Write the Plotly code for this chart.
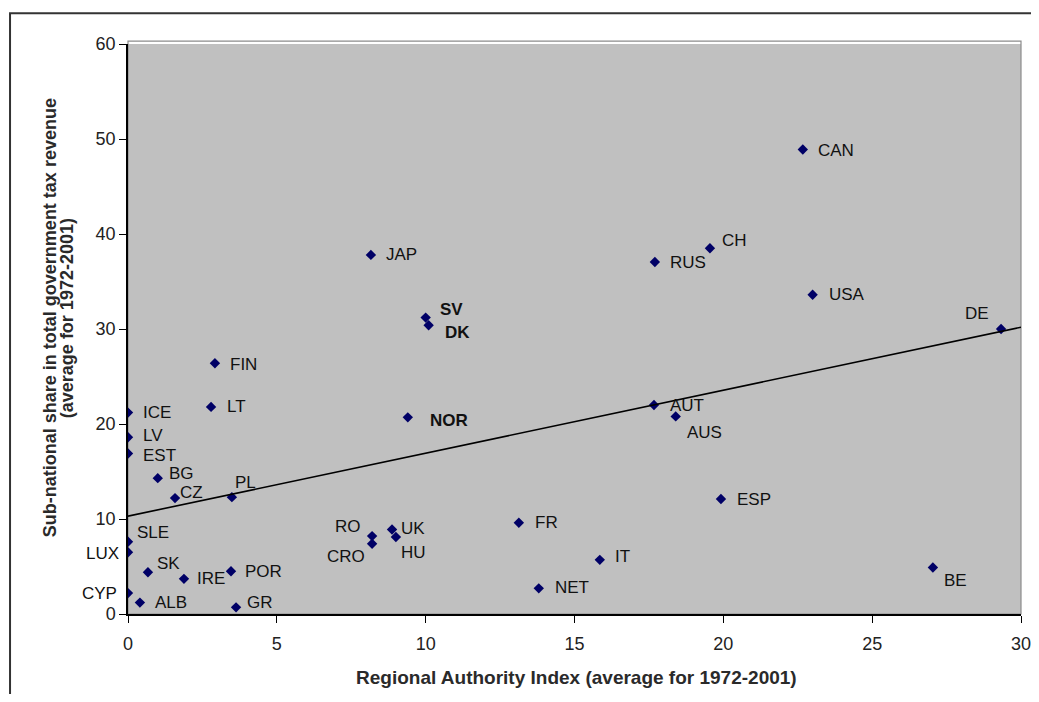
import plotly.graph_objects as go

# ---- data ----
countries = ["CAN", "CH", "RUS", "USA", "DE", "JAP", "SV", "DK", "FIN", "LT",
             "ICE", "LV", "EST", "BG", "CZ", "PL", "SLE", "LUX", "SK", "IRE",
             "POR", "CYP", "ALB", "GR", "NOR", "RO", "CRO", "UK", "HU", "FR",
             "IT", "NET", "AUT", "AUS", "ESP", "BE"]
rai = [22.67, 19.55, 17.7, 23.0, 29.33, 8.16, 10.0, 10.1, 2.92, 2.79,
       0.0, 0.0, 0.0, 1.0, 1.58, 3.49, 0.0, 0.0, 0.67, 1.88,
       3.46, 0.0, 0.4, 3.63, 9.4, 8.2, 8.2, 8.87, 9.0, 13.13,
       15.85, 13.8, 17.67, 18.4, 19.92, 27.04]
tax_share = [48.9, 38.5, 37.05, 33.6, 30.0, 37.8, 31.2, 30.4, 26.4, 21.8,
             21.2, 18.6, 16.9, 14.3, 12.2, 12.3, 7.6, 6.5, 4.4, 3.7,
             4.5, 2.2, 1.2, 0.7, 20.7, 8.2, 7.4, 8.9, 8.1, 9.6,
             5.7, 2.7, 22.0, 20.8, 12.1, 4.9]
bold_labels = ["SV", "DK", "NOR"]
trend_intercept = 10.3
trend_slope = 0.663
trend_x = [0, 30]
x_ticks = [0, 5, 10, 15, 20, 25, 30]
y_ticks = [0, 10, 20, 30, 40, 50, 60]
x_title = "Regional Authority Index (average for 1972-2001)"
y_title_lines = ["Sub-national share in total government tax revenue",
                 "(average for 1972-2001)"]

# label placement: (side, dx px, dy px) ; dy positive = up
placement = {
    "CAN": ("l", 13, -1), "CH": ("l", 10, 8), "RUS": ("l", 13, 0), "USA": ("l", 14, 0),
    "DE": ("r", -10, 16), "JAP": ("l", 13, 0), "SV": ("l", 12, 8), "DK": ("l", 14, -7),
    "FIN": ("l", 13, -1), "LT": ("l", 14, 0), "ICE": ("l", 13, 0), "LV": ("l", 13, 2),
    "EST": ("l", 13, -2), "BG": ("l", 9, 5), "CZ": ("l", 3, 6), "PL": ("l", 1, 15),
    "SLE": ("l", 7, 9), "LUX": ("r", -7, -1), "SK": ("l", 7, 9), "IRE": ("l", 11, 0),
    "POR": ("l", 12, 0), "CYP": ("r", -9, 0), "ALB": ("l", 13, 0), "GR": ("l", 9, 5),
    "NOR": ("l", 20, -3), "RO": ("r", -9, 10), "CRO": ("r", -5, -13), "UK": ("l", 7, 1),
    "HU": ("l", 3, -15), "FR": ("l", 14, 0), "IT": ("l", 13, 3), "NET": ("l", 14, 1),
    "AUT": ("l", 14, 0), "AUS": ("l", 9, -16), "ESP": ("l", 14, 0), "BE": ("l", 9, -13),
}

FONT = "Liberation Sans, Arial, sans-serif"

fig = go.Figure()
fig.add_trace(go.Scatter(
    x=rai, y=tax_share, mode="markers",
    marker=dict(symbol="diamond", size=8, color="#000066"),
    hoverinfo="text", text=countries, showlegend=False,
))

fig.add_trace(go.Scatter(
    x=trend_x, y=[trend_intercept + trend_slope * v for v in trend_x], mode="lines",
    line=dict(color="black", width=1.6), showlegend=False, hoverinfo="skip",
))

for c, x, y in zip(countries, rai, tax_share):
    side, dx, dy = placement[c]
    txt = f"<b>{c}</b>" if c in bold_labels else c
    fig.add_annotation(
        x=x, y=y, text=txt, showarrow=False,
        xanchor="left" if side == "l" else "right", yanchor="middle",
        xshift=dx, yshift=dy,
        font=dict(family=FONT, size=17, color="#111111"),
    )

# axis titles
fig.add_annotation(
    xref="paper", yref="paper", x=0.502, y=0, yshift=-63,
    text=f"<b>{x_title}</b>", showarrow=False, xanchor="center", yanchor="middle",
    font=dict(family=FONT, size=19, color="#2a2a2a"),
)
for shift, line in zip([-78, -61], y_title_lines):
    fig.add_annotation(
        xref="paper", yref="paper", x=0, y=0.519, xshift=shift,
        text=f"<b>{line}</b>", showarrow=False, textangle=-90,
        xanchor="center", yanchor="middle",
        font=dict(family=FONT, size=18, color="#2a2a2a"),
    )

fig.update_layout(
    width=1023, height=686,
    margin=dict(l=120, r=10, t=36, b=80, autoexpand=False),
    paper_bgcolor="white", plot_bgcolor="#c0c0c0",
    font=dict(family=FONT, size=17, color="#222222"),
    shapes=[
        dict(type="rect", xref="paper", yref="paper", layer="below",
             x0=0, x1=1, y0=0, y1=1.005, line=dict(color="#8c8c8c", width=1.2)),
        dict(type="rect", xref="paper", yref="paper",
             x0=-0.1321, x1=1.1, y0=-0.3, y1=1.054,
             line=dict(color="#333333", width=2)),
    ],
)
fig.update_xaxes(
    range=[0, 30], tickvals=x_ticks, ticks="outside", ticklen=7,
    tickcolor="black", showline=True, linecolor="black", linewidth=1.5,
    showgrid=False, zeroline=False, ticklabelstandoff=6,
    ticklabeloverflow="allow", automargin=False,
    tickfont=dict(size=18, color="#222222"),
)
fig.update_yaxes(
    range=[0, 60], tickvals=y_ticks, ticks="outside", ticklen=7,
    tickcolor="black", showline=True, linecolor="black", linewidth=1.5,
    showgrid=False, zeroline=False, automargin=False,
    tickfont=dict(size=18, color="#222222"),
)

fig.write_html("out.html")
